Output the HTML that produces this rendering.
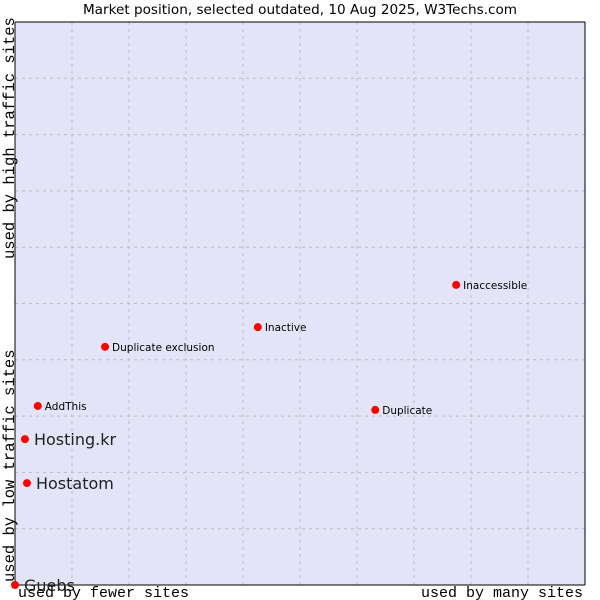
<!DOCTYPE html>
<html><head><meta charset="utf-8"><style>
body{margin:0;background:#fff;}
svg{display:block;font-family:"DejaVu Sans","Liberation Sans",sans-serif;}
</style></head><body>
<svg id="chart" width="600" height="600">
<text x="300" y="14" text-anchor="middle" font-size="13.6" fill="#000">Market position, selected outdated, 10 Aug 2025, W3Techs.com</text>
<rect x="15" y="22" width="570" height="563" fill="#e3e4f8"/>
<g id="grid"></g>
<line x1="15" y1="22" x2="585" y2="22" stroke="#000"/>
<line x1="15" y1="22" x2="15" y2="585" stroke="#000"/>
<line x1="15" y1="585" x2="585" y2="585" stroke="#000"/>
<line x1="585" y1="22" x2="585" y2="585" stroke="#000"/>
<g id="points"></g>
<text x="18" y="597" font-family="'Liberation Mono',monospace" font-size="15">used by fewer sites</text>
<text x="583" y="597" text-anchor="end" font-family="'Liberation Mono',monospace" font-size="15">used by many sites</text>
<text transform="translate(14,582) rotate(-90)" font-family="'Liberation Mono',monospace" font-size="15.5">used by low traffic sites</text>
<text transform="translate(14,259) rotate(-90)" font-family="'Liberation Mono',monospace" font-size="15.5">used by high traffic sites</text>
</svg>
<script>
const names = ["Guebs","Hosting.kr","Hostatom","AddThis","Duplicate exclusion","Inactive","Inaccessible","Duplicate"];
const xValues = [0,1.75,2.1,4.0,15.8,42.6,77.4,63.2];
const yValues = [0,25.9,18.1,31.8,42.3,45.8,53.3,31.1];
const labelSizes = [16,16,16,10.5,10.5,10.5,10.5,10.5];
const NS="http://www.w3.org/2000/svg";
const L=15,R=585,T=22,B=585;
function xs(v){return L+v/100*(R-L);}
function ys(v){return B-v/100*(B-T);}
const grid=document.getElementById('grid');
for(let i=1;i<10;i++){
  const v=document.createElementNS(NS,'line');
  v.setAttribute('x1',xs(i*10));v.setAttribute('x2',xs(i*10));v.setAttribute('y1',T);v.setAttribute('y2',B);
  v.setAttribute('stroke','#bbb');v.setAttribute('stroke-dasharray','3,4');
  
  
  grid.appendChild(v);
  const h=document.createElementNS(NS,'line');
  h.setAttribute('y1',ys(i*10));h.setAttribute('y2',ys(i*10));h.setAttribute('x1',L);h.setAttribute('x2',R);
  h.setAttribute('stroke','#bbb');h.setAttribute('stroke-dasharray','3,4');
  
  
  grid.appendChild(h);
}
const pts=document.getElementById('points');
names.forEach((n,i)=>{
  const x=xs(xValues[i]),y=ys(yValues[i]);
  const c=document.createElementNS(NS,'circle');
  c.setAttribute('cx',x);c.setAttribute('cy',y);c.setAttribute('r',4);c.setAttribute('fill','#f00');
  
  
  pts.appendChild(c);
  const t=document.createElementNS(NS,'text');
  const big=labelSizes[i]>12;
  t.setAttribute('x',x+(big?9:7));t.setAttribute('y',y+(big?6:4));
  t.setAttribute('font-size',labelSizes[i]);t.setAttribute('fill',big?'#222':'#000');
  t.textContent=n;
  
  
  pts.appendChild(t);
});
</script>
</body></html>
